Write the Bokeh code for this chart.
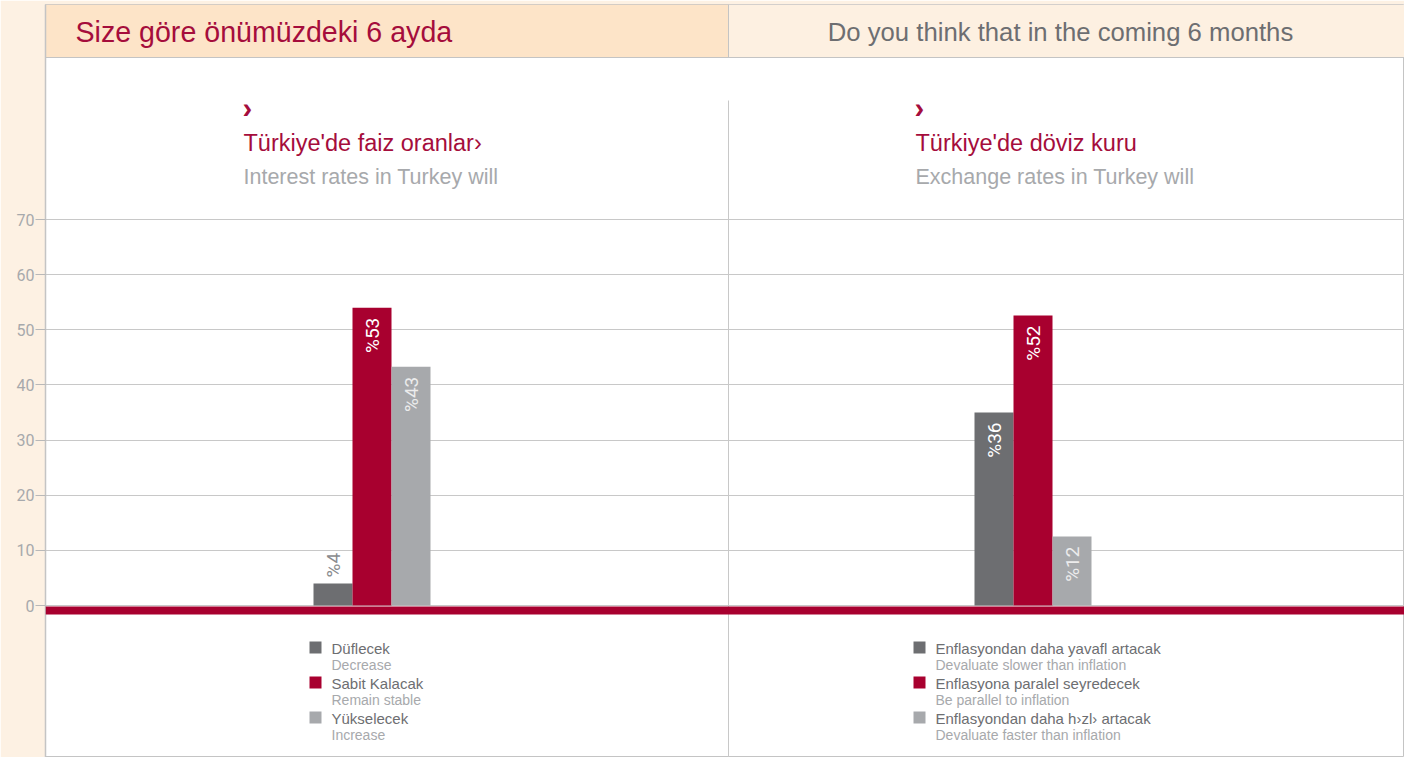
import math
from bokeh.plotting import figure
from bokeh.models import Range1d, FixedTicker, BoxAnnotation, Label, ColumnDataSource
from bokeh.core.properties import value
from bokeh.embed import file_html
from bokeh.resources import INLINE

# ---------------- data ----------------
header_tr = "Size göre önümüzdeki 6 ayda"
header_en = "Do you think that in the coming 6 months"

left_title_tr = "Türkiye'de faiz oranlar›"
left_title_en = "Interest rates in Turkey will"
left_categories = ["Düflecek", "Sabit Kalacak", "Yükselecek"]
left_sub = ["Decrease", "Remain stable", "Increase"]
left_values = [4.0, 54.0, 43.3]
left_labels = ["%4", "%53", "%43"]

right_title_tr = "Türkiye'de döviz kuru"
right_title_en = "Exchange rates in Turkey will"
right_categories = ["Enflasyondan daha yavafl artacak", "Enflasyona paralel seyredecek",
                    "Enflasyondan daha h›zl› artacak"]
right_sub = ["Devaluate slower than inflation", "Be parallel to inflation",
             "Devaluate faster than inflation"]
right_values = [35.0, 52.6, 12.5]
right_labels = ["%36", "%52", "%12"]

y_ticks = [0, 10, 20, 30, 40, 50, 60, 70]

# ---------------- style ----------------
RED = "#a8002f"
RED_TXT = "#a50d3c"
DARK = "#6d6e71"
LIGHT = "#a7a9ac"
GRID = "#c8c8c8"
BORDER = "#c4c4c4"
HDR_L = "#fde4c8"
HDR_R = "#fdf0e1"
STRIP = "#fdf1e3"
bar_colors = [DARK, RED, LIGHT]
lab_colors = ["#ffffff", "#ffffff", "#ececec"]
SANS = "Liberation Sans"
COND = "Roboto"

W, H = 1404, 757
X0, X1 = 45, 1404          # horizontal layout units (pixels of the page)
TOP_PX, BOT_PX = 4, 757
ZERO_PX = 605
PX_PER_UNIT = 386 / 70.0


def vy(py):
    return (ZERO_PX - py) / PX_PER_UNIT


UNIT = 1 / PX_PER_UNIT
BAR_W = 39
group_centers = [371.5, 1032.5]
legend_x = [315, 919]

p = figure(width=W, height=H, x_range=Range1d(X0, X1), y_range=Range1d(vy(BOT_PX), vy(TOP_PX)),
           output_backend="svg", toolbar_location=None, x_axis_location=None, title=None,
           min_border_left=X0, min_border_right=0, min_border_top=TOP_PX, min_border_bottom=0)
p.background_fill_color = "white"
p.border_fill_color = STRIP
p.outline_line_color = BORDER

# axis
ax = p.yaxis[0]
ax.ticker = FixedTicker(ticks=y_ticks)
ax.axis_line_color = BORDER
ax.axis_line_width = 1.5
ax.major_tick_out = 10
ax.major_tick_in = 0
ax.minor_tick_out = 0
ax.minor_tick_in = 0
ax.major_tick_line_color = "#b8b8b8"
ax.major_label_text_color = LIGHT
ax.major_label_text_font = COND
ax.major_label_text_font_size = "16px"
ax.major_label_standoff = 1
p.ygrid.ticker = FixedTicker(ticks=y_ticks)
p.ygrid.grid_line_color = GRID
p.xgrid.visible = False

# header band
p.add_layout(BoxAnnotation(left=X0, right=728, bottom=vy(57), top=vy(TOP_PX), fill_color=HDR_L,
                           fill_alpha=1, line_color=None, level="underlay"))
p.add_layout(BoxAnnotation(left=728, right=X1, bottom=vy(57), top=vy(TOP_PX), fill_color=HDR_R,
                           fill_alpha=1, line_color=None, level="underlay"))
p.segment(x0=[X0, 728, 728], y0=[vy(57), vy(57), vy(100)], x1=[X1, 728, 728],
          y1=[vy(57), vy(TOP_PX), vy(BOT_PX)], line_color=[BORDER, BORDER, GRID], line_width=1)

p.add_layout(Label(x=75, y=vy(31), text=header_tr, text_font=SANS, text_font_size="28.6px",
                   text_color=RED_TXT, text_baseline="middle"))
p.add_layout(Label(x=1060, y=vy(31), text=header_en, text_font=SANS, text_font_size="25.7px",
                   text_color=DARK, text_align="center", text_baseline="middle"))

# bars
xs, tops, cols, labs, lcols = [], [], [], [], []
for gc, vals, labels in [(group_centers[0], left_values, left_labels),
                         (group_centers[1], right_values, right_labels)]:
    for i, v in enumerate(vals):
        xs.append(gc + (i - 1) * BAR_W)
        tops.append(v)
        cols.append(bar_colors[i])
        labs.append(labels[i])
        lcols.append(lab_colors[i])
src = ColumnDataSource(dict(x=xs, top=tops, color=cols, label=labs, lcolor=lcols))
p.vbar(x="x", top="top", bottom=0, width=BAR_W, fill_color="color", line_color=None, source=src)

inside = [i for i, t in enumerate(tops) if t >= 10]
outside = [i for i, t in enumerate(tops) if t < 10]
src_in = ColumnDataSource(dict(x=[xs[i] for i in inside], y=[tops[i] - 10 * UNIT for i in inside],
                               text=[labs[i] for i in inside], color=[lcols[i] for i in inside]))
src_out = ColumnDataSource(dict(x=[xs[i] for i in outside], y=[tops[i] + 6 * UNIT for i in outside],
                                text=[labs[i] for i in outside]))
p.text(x="x", y="y", text="text", source=src_in, angle=math.pi / 2, text_align="right",
       text_baseline="middle", text_color="color", text_font=value(COND), text_font_size="19px")
p.text(x="x", y="y", text="text", source=src_out, angle=math.pi / 2, text_align="left",
       text_baseline="middle", text_color="#8a8b8e", text_font=value(COND), text_font_size="19px")

# zero baseline
p.add_layout(BoxAnnotation(top=vy(606), bottom=vy(614), fill_color=RED, fill_alpha=1, line_color=None))

# panel titles
for tx, ttr, ten in [(243, left_title_tr, left_title_en), (915, right_title_tr, right_title_en)]:
    p.add_layout(Label(x=tx - 1, y=vy(107), text="›", text_font=SANS, text_font_style="bold",
                       text_font_size="29px", text_color=RED_TXT, text_baseline="middle"))
    p.add_layout(Label(x=tx, y=vy(142), text=ttr, text_font=SANS, text_font_size="23.5px",
                       text_color=RED_TXT, text_baseline="middle"))
    p.add_layout(Label(x=tx, y=vy(176), text=ten, text_font=SANS, text_font_size="21.5px",
                       text_color=LIGHT, text_baseline="middle"))

# legends
for lx, cats, subs in [(legend_x[0], left_categories, left_sub), (legend_x[1], right_categories, right_sub)]:
    ly = [vy(647 + 35 * i) for i in range(3)]
    p.scatter(x=[lx] * 3, y=ly, marker="square", size=12, fill_color=bar_colors, line_color=None)
    for i in range(3):
        p.add_layout(Label(x=lx + 16, y=vy(648 + 35 * i), text=cats[i], text_font=SANS,
                           text_font_size="15px", text_color=DARK, text_baseline="middle"))
        p.add_layout(Label(x=lx + 16, y=vy(664 + 35 * i), text=subs[i], text_font=SANS,
                           text_font_size="14px", text_color=LIGHT, text_baseline="middle"))

open("out.html", "w").write(file_html(p, INLINE))
